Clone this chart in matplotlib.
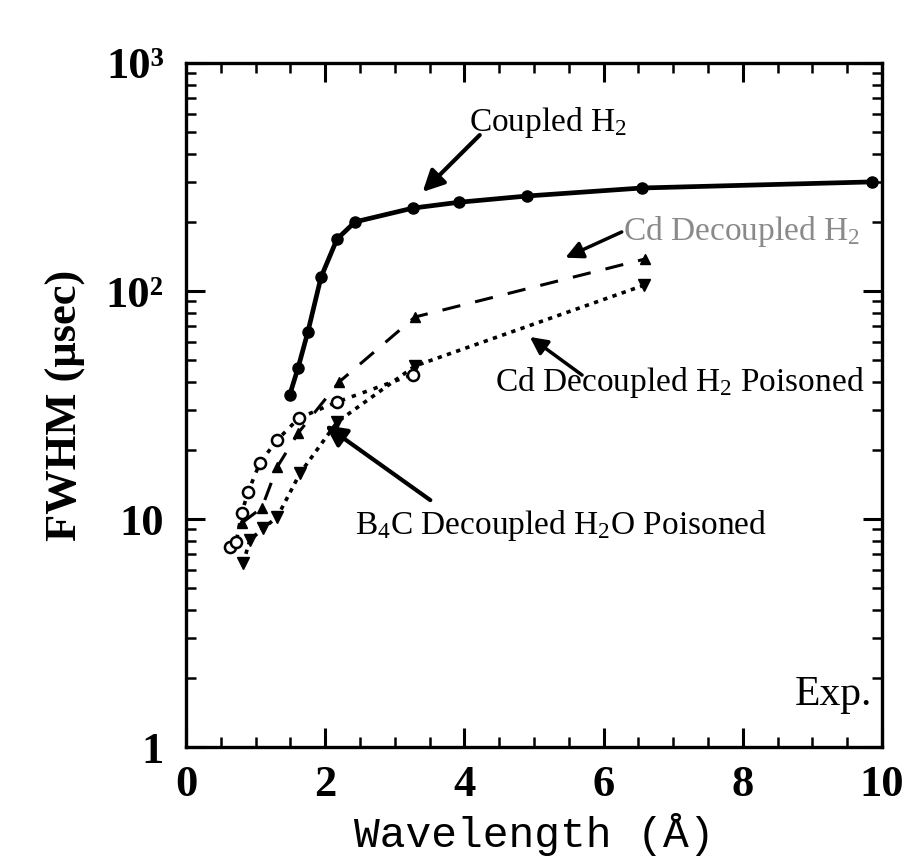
import matplotlib
matplotlib.use("Agg")
import matplotlib.pyplot as plt
from matplotlib.ticker import FixedLocator, FixedFormatter, LogLocator, NullFormatter, MultipleLocator

plt.rcParams['font.family'] = ['Liberation Serif', 'DejaVu Serif']
plt.rcParams['mathtext.fontset'] = 'custom'
plt.rcParams['mathtext.rm'] = 'Liberation Serif'
plt.rcParams['mathtext.it'] = 'Liberation Serif:italic'
plt.rcParams['mathtext.bf'] = 'Liberation Serif:bold'

# ---- data ----
coupled_x = [1.49, 1.61, 1.75, 1.94, 2.17, 2.43, 3.26, 3.92, 4.90, 6.55, 9.86]
coupled_y = [35, 46, 66, 115, 169, 201, 231, 245, 261, 283, 301]

cd_x = [0.80, 1.09, 1.31, 1.61, 2.20, 3.29, 6.59]
cd_y = [9.6, 11.2, 16.9, 23.8, 39.9, 76.9, 138]

cdp_x = [0.82, 0.92, 1.11, 1.31, 1.64, 2.17, 3.29, 6.58]
cdp_y = [6.4, 8.1, 9.1, 10.2, 15.9, 26.6, 46.9, 106]

b4c_x = [0.63, 0.72, 0.80, 0.89, 1.06, 1.31, 1.62, 2.17, 3.26]
b4c_y = [7.5, 7.9, 10.6, 13.1, 17.6, 22.2, 27.7, 32.6, 43]

x_ticks = [0, 2, 4, 6, 8, 10]
x_ticklabels = ['0', '2', '4', '6', '8', '10']
y_ticks = [1, 10, 100, 1000]
y_ticklabels = ['1', '10', '10²', '10³']

fig = plt.figure(figsize=(9.14, 8.63), dpi=100)
ax = fig.add_axes([0.2035, 0.1344, 0.7615, 0.7926])
ax.set_yscale('log')
ax.set_xlim(0, 10)
ax.set_ylim(1, 1000)

ax.plot(coupled_x, coupled_y, '-', color='k', lw=3.4, marker='o', ms=8)
ax.plot(cd_x, cd_y, color='k', lw=2.2, dashes=(6, 5), marker='^', ms=6.5)
ax.plot(cdp_x, cdp_y, color='k', lw=2.6, dashes=(1.2, 1.5), marker='v', ms=8)
ax.plot(b4c_x, b4c_y, color='k', lw=2.6, dashes=(1.2, 2.0), marker='o', ms=8,
        mfc='white', mec='k', mew=1.8)

arrow = dict(arrowstyle='-|>', lw=3, color='k', mutation_scale=32, shrinkA=0, shrinkB=0)
arrow_thin = dict(arrowstyle='-|>', lw=2.5, color='k', mutation_scale=26, shrinkA=0, shrinkB=0)
fs = 24
ax.text(4.07, 551, 'Coupled H$_2$', fontsize=fs, ha='left', va='center')
ax.annotate('', xy=(3.40, 272), xytext=(4.22, 483), arrowprops=arrow)

ax.text(6.28, 181.5, 'Cd Decoupled H$_2$', fontsize=fs, ha='left', va='center', color='#8a8a8a')
ax.annotate('', xy=(5.45, 140), xytext=(6.26, 181.5), arrowprops=arrow_thin)

ax.text(4.44, 39.5, 'Cd Decoupled H$_2$ Poisoned', fontsize=fs, ha='left', va='center')
ax.annotate('', xy=(4.94, 62.9), xytext=(5.69, 42.8), arrowprops=arrow_thin)

ax.text(2.43, 9.4, 'B$_4$C Decoupled H$_2$O Poisoned', fontsize=fs, ha='left', va='center')
ax.annotate('', xy=(2.0, 25.8), xytext=(3.51, 12.1), arrowprops=arrow)

ax.text(9.86, 1.69, 'Exp.', fontsize=30, ha='right', va='center')

# ticks
ax.xaxis.set_major_locator(FixedLocator(x_ticks))
ax.xaxis.set_major_formatter(FixedFormatter(x_ticklabels))
ax.xaxis.set_minor_locator(MultipleLocator(0.5))
ax.yaxis.set_major_locator(FixedLocator(y_ticks))
ax.yaxis.set_major_formatter(FixedFormatter(y_ticklabels))
ax.yaxis.set_minor_locator(LogLocator(base=10, subs=range(2, 10)))
ax.yaxis.set_minor_formatter(NullFormatter())

ax.tick_params(which='both', direction='in', top=True, right=True)
ax.tick_params(which='major', length=14, width=2.2)
ax.tick_params(which='minor', length=7.5, width=1.8)
ax.tick_params(axis='x', which='major', pad=13)
ax.tick_params(axis='y', which='major', pad=16)
for lab in ax.get_xticklabels() + ax.get_yticklabels():
    lab.set_fontsize(32)
    lab.set_fontweight('bold')
for s in ax.spines.values():
    s.set_linewidth(2.4)

ax.set_ylabel('FWHM (μsec)', fontsize=32, fontweight='bold', labelpad=14)
ax.set_xlabel('Wavelength (Å)', fontsize=31, family=['Liberation Mono', 'DejaVu Sans Mono'], labelpad=6)

fig.savefig('out.png', dpi=100)
